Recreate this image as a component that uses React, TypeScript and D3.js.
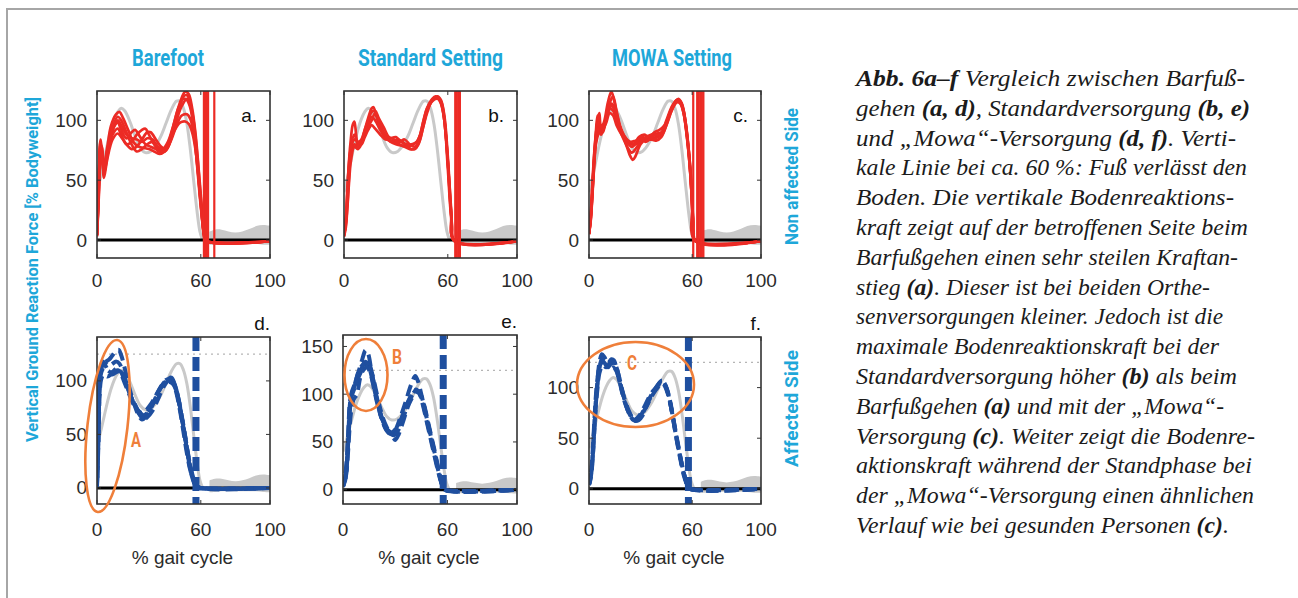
import React from 'react';
import * as d3 from 'd3';

type Pt = [number, number];

// ---------- data ----------
const X_TICKS = [0, 60, 100];
const Y_TICKS_STD = [0, 50, 100];
const Y_TICKS_E = [0, 50, 100, 150];
const REF_LEVEL = 125;

const COLUMN_TITLES = ['Barefoot', 'Standard Setting', 'MOWA Setting'];
const ROW_LABELS = ['Non affected Side', 'Affected Side'];
const Y_LABEL = 'Vertical  Ground Reaction Force [% Bodyweight]';
const X_LABEL = '% gait cycle';
const PANEL_LETTERS = ['a.', 'b.', 'c.', 'd.', 'e.', 'f.'];
const MARKS = ['A', 'B', 'C'];

// healthy reference (grey)
const GRAY_MEAN: Pt[] = [[0,40],[2,52],[4,66],[6,80],[8,92],[10,101],[12,107],[14,110],[16,108],[19,99],[22,87],[25,77],[28,73],[31,74],[34,79],[37,87],[40,98],[43,109],[46,116],[48,116],[50,110],[52,97],[54,75],[56,48],[58,22],[59.5,7],[61,0]];
const GRAY_BAND_X = [65,68,72,76,80,84,88,92,96,100];
const GRAY_BAND_UPPER = [7,9,9,7,6,7,9,12,13,12];
const GRAY_BAND_LOWER = [-4,-4,-3,-3,-3,-3,-3,-3,-4,-4];

// non affected side, barefoot (a)
const RED_A: Pt[][] = [
  [[0,4],[1,45],[2,80],[3,72],[4,62],[6,78],[8,95],[11,105],[13,107],[15,102],[18,92],[21,82],[24,78],[27,77],[30,76],[33,74],[36,72],[39,74],[42,84],[45,100],[48,115],[51,124],[53,122],[55,110],[57,88],[59,55],[61,20],[62,3],[63.5,-1],[100,-1]],
  [[0,4],[1,50],[2,84],[3,68],[4,55],[6,70],[8,85],[10,95],[12,98],[14,92],[17,85],[20,90],[22,92],[25,86],[28,80],[31,78],[34,76],[37,73],[40,75],[43,85],[46,100],[49,112],[52,118],[54,112],[56,95],[58,65],[60,30],[62,5],[63.5,-1],[100,-1]],
  [[0,3],[1,35],[2,70],[3,78],[4,60],[6,72],[9,88],[12,93],[14,88],[17,80],[20,82],[23,88],[26,92],[28,93],[30,88],[33,80],[36,75],[39,74],[42,82],[45,92],[48,98],[51,99],[53,97],[55,90],[57,75],[59,48],[61,15],[62,2],[63.5,-1],[100,-1]],
  [[0,5],[1,40],[2,75],[4,58],[6,75],[9,92],[12,100],[14,96],[17,88],[20,85],[23,84],[26,82],[29,85],[32,84],[35,78],[38,74],[41,78],[44,92],[47,108],[50,120],[52,121],[54,114],[56,98],[58,70],[60,35],[62,5],[63.5,-1],[100,-1]],
  [[0,4],[1,42],[2,82],[3,74],[4,52],[6,68],[9,84],[12,89],[14,86],[17,80],[20,76],[23,78],[26,84],[29,90],[31,90],[34,84],[37,78],[40,76],[43,84],[46,96],[49,104],[52,105],[54,101],[56,88],[58,62],[60,30],[62,4],[63.5,-1],[100,-1]],
  [[0,4],[1,38],[2,78],[4,60],[6,76],[9,94],[12,103],[14,100],[17,90],[20,80],[23,74],[26,76],[29,80],[32,82],[35,78],[38,76],[41,82],[44,95],[47,110],[50,118],[52,117],[54,110],[56,92],[58,60],[60,28],[62,4],[63.5,-1],[100,-1]],
];
const RED_VERT_A = [61.8, 62.6, 63.4, 64.2, 67.8];

// non affected side, standard setting (b)
const RED_B: Pt[][] = [
  [[0,3],[1,15],[2,40],[3,68],[4,85],[5,96],[6,99],[7,88],[8,78],[10,82],[12,92],[14,102],[16,110],[17,111],[19,102],[22,90],[25,84],[28,82],[31,84],[34,82],[37,78],[40,80],[42,82],[44,88],[46,100],[48,110],[51,117],[53,119],[55,118],[57,110],[59,85],[61,45],[62.5,12],[64,-1],[100,-1]],
  [[0,4],[1,12],[2,30],[3,55],[4,72],[6,80],[8,78],[10,82],[12,90],[14,98],[16,103],[18,100],[21,92],[24,86],[27,82],[30,80],[33,79],[36,78],[39,76],[42,78],[44,84],[46,96],[49,112],[52,118],[54,119],[56,115],[58,100],[60,65],[62,22],[64,-1],[100,-1]],
  [[0,5],[1,18],[2,45],[3,66],[4,76],[6,84],[8,82],[10,80],[12,86],[14,92],[16,96],[18,93],[21,88],[24,84],[27,85],[30,86],[33,82],[36,80],[39,80],[42,82],[45,92],[48,108],[51,116],[54,118],[56,114],[58,100],[60,60],[62,18],[64,-1],[100,-1]],
  [[0,3],[1,10],[2,28],[3,50],[4,66],[6,78],[8,76],[10,80],[12,88],[14,95],[16,100],[18,106],[20,100],[23,90],[26,84],[29,82],[32,80],[35,78],[38,76],[41,76],[43,80],[45,90],[48,106],[51,117],[54,120],[56,117],[58,104],[60,70],[62,25],[64,-1],[100,-1]],
  [[0,4],[1,14],[2,36],[3,62],[4,78],[6,88],[8,82],[10,84],[12,92],[14,100],[16,107],[18,108],[20,102],[23,94],[26,86],[29,84],[32,82],[35,84],[38,80],[41,78],[43,82],[45,94],[48,110],[51,118],[53,120],[56,116],[58,102],[60,66],[62,20],[64,-1],[100,-1]],
];
const RED_VERT_B = [64.3, 65.2, 66.1, 67.0];

// non affected side, MOWA setting (c)
const RED_C: Pt[][] = [
  [[0,5],[1,20],[2,45],[3,70],[4,90],[5,104],[6,100],[7,92],[9,100],[11,115],[13,124],[15,114],[17,100],[19,90],[21,84],[24,81],[27,80],[30,84],[33,85],[36,84],[39,86],[42,88],[45,98],[48,110],[51,116],[53,115],[55,106],[57,85],[59,55],[60.5,15],[62,-1],[100,-1]],
  [[0,5],[1,18],[2,40],[3,66],[4,84],[5,95],[6,92],[8,90],[10,102],[12,110],[14,108],[16,100],[19,88],[22,78],[24,70],[25.5,67],[27,70],[30,80],[33,84],[36,84],[39,83],[42,86],[45,96],[48,108],[51,117],[53,116],[55,108],[57,88],[59,58],[60.5,18],[62,-1],[100,-1]],
  [[0,6],[1,22],[2,48],[3,72],[4,88],[5,100],[6,106],[7,96],[9,98],[11,108],[13,114],[15,110],[17,98],[20,88],[23,82],[26,80],[29,86],[32,88],[35,86],[38,90],[41,92],[44,96],[47,106],[50,114],[52,116],[54,112],[56,98],[58,72],[59.5,42],[60.8,8],[62,-1],[100,-1]],
  [[0,5],[1,16],[2,38],[3,62],[4,80],[6,90],[8,92],[10,98],[12,106],[14,104],[16,96],[19,88],[22,82],[25,78],[28,82],[31,86],[34,84],[37,84],[40,86],[43,90],[46,102],[49,113],[52,118],[54,114],[56,100],[58,75],[60,32],[62,-1],[100,-1]],
  [[0,5],[1,19],[2,42],[3,68],[4,86],[5,98],[7,94],[9,97],[11,106],[13,112],[15,108],[17,97],[20,86],[23,76],[25,73],[27,76],[30,82],[33,86],[36,88],[39,89],[42,90],[45,100],[48,111],[51,117],[53,116],[55,108],[57,88],[59,58],[60.5,20],[62,-1],[100,-1]],
  [[0,5],[1,17],[2,40],[3,65],[4,82],[5,93],[7,88],[9,96],[11,110],[13,118],[14,120],[16,108],[18,96],[21,86],[24,82],[27,83],[30,85],[33,82],[36,85],[39,88],[42,87],[45,96],[48,108],[51,115],[53,114],[55,106],[57,86],[59,54],[60.5,16],[62,-1],[100,-1]],
];
const RED_VERT_C = [60.6, 62.9, 63.8, 64.7, 65.6, 66.5];

// affected side, barefoot (d)
const BLUE_D: Pt[][] = [
  [[0,2],[0.7,40],[1.4,90],[2,108],[3,116],[5,118],[7,120],[9,124],[11,128],[12.5,129],[14,124],[16,112],[18,98],[20,86],[22,76],[24,68],[26,64],[28,66],[31,74],[34,84],[37,94],[40,100],[42,103],[44,100],[46,90],[48,74],[50,56],[52,36],[54,18],[56,6],[58,1],[60,0],[100,0]],
  [[0,3],[0.8,50],[1.5,95],[2.5,108],[4,112],[6,110],[8,108],[10,109],[12,110],[14,106],[16,98],[18,90],[20,82],[22,75],[24,70],[26,66],[28,68],[31,76],[34,86],[37,95],[40,101],[42,102],[44,98],[46,88],[48,72],[50,52],[52,32],[54,16],[56,6],[58,1],[60,0],[100,0]],
  [[0,2],[0.7,45],[1.5,100],[2.5,114],[3.5,118],[5,114],[7,108],[9,106],[11,108],[13,109],[15,104],[17,96],[19,88],[21,80],[23,74],[25,70],[27,68],[29,70],[32,78],[35,88],[38,97],[41,102],[43,103],[45,96],[47,84],[49,66],[51,48],[53,28],[55,12],[57,3],[59,0],[100,0]],
  [[0,1],[0.8,40],[1.6,88],[2.5,102],[4,106],[6,104],[8,106],[10,110],[12,112],[14,108],[16,100],[18,92],[20,84],[22,78],[24,72],[26,70],[28,72],[31,78],[34,86],[37,94],[40,98],[42,99],[44,97],[46,90],[48,76],[50,58],[52,38],[54,20],[56,8],[58,2],[60,0],[100,0]],
  [[0,2],[0.7,48],[1.4,96],[2.2,110],[3.5,115],[5,116],[7,114],[9,116],[11,118],[13,116],[15,108],[17,98],[19,88],[21,80],[23,74],[25,68],[27,64],[29,66],[32,72],[35,82],[38,93],[41,100],[43,101],[45,96],[47,84],[49,66],[51,46],[53,26],[55,10],[57,2],[59,0],[100,0]],
];
const BLUE_VERT_D = 57.2;

// affected side, standard setting (e)
const BLUE_E: Pt[][] = [
  [[0,4],[1,10],[2,24],[3,55],[4,90],[5,102],[7,112],[9,124],[11,136],[13,146],[14.5,142],[16,128],[18,108],[20,90],[22,76],[24,66],[26,60],[28,58],[30,62],[33,76],[36,92],[38,104],[40,114],[41.5,119],[43,114],[45,100],[47,84],[49,68],[51,52],[53,36],[55,18],[57,5],[58,0],[100,0]],
  [[0,4],[1,8],[2,20],[3,50],[4,84],[5,98],[7,108],[9,118],[11,126],[13,132],[15,130],[17,118],[19,100],[21,84],[23,72],[25,64],[27,60],[29,60],[31,64],[34,76],[37,90],[40,100],[42,104],[44,100],[46,88],[48,72],[50,56],[52,40],[54,24],[56,10],[57.5,2],[58,0],[100,0]],
  [[0,5],[1,12],[2,28],[3,60],[4,92],[5,100],[7,112],[9,124],[11,130],[13,134],[15,128],[17,114],[19,98],[21,82],[23,70],[25,62],[27,58],[29,54],[30,52],[32,58],[35,74],[38,90],[41,100],[43,103],[45,98],[47,86],[49,70],[51,54],[53,38],[55,20],[57,6],[58,0],[100,0]],
  [[0,3],[1,8],[2,18],[3,42],[4,70],[5,86],[6,94],[8,100],[10,118],[12,126],[14,128],[16,120],[18,104],[20,88],[22,76],[24,68],[26,62],[28,60],[30,63],[33,72],[36,86],[39,98],[42,104],[44,102],[46,92],[48,76],[50,60],[52,44],[54,28],[56,12],[57.5,3],[58,0],[100,0]],
  [[0,4],[1,9],[2,22],[3,52],[4,86],[5,100],[7,110],[9,120],[11,128],[13,133],[15,131],[17,120],[19,104],[21,88],[23,75],[25,66],[27,60],[29,57],[31,60],[34,72],[37,88],[40,100],[42,105],[44,101],[46,90],[48,74],[50,58],[52,42],[54,26],[56,11],[57.5,2],[58,0],[100,0]],
];
const BLUE_VERT_E = 57.6;

// affected side, MOWA setting (f)
const BLUE_F: Pt[][] = [
  [[0,4],[1,12],[2,30],[3,60],[4,88],[5,108],[6,124],[7.5,133],[9,130],[11,124],[13,128],[14.5,127],[16,118],[18,104],[20,92],[22,82],[24,74],[26,69],[28,68],[30,72],[33,82],[36,92],[39,100],[41,105],[42.5,107],[44,104],[46,94],[48,78],[50,58],[52,40],[54,24],[56,10],[57.5,3],[59,0],[100,0]],
  [[0,4],[1,10],[2,26],[3,54],[4,82],[5,100],[6,114],[8,122],[10,120],[12,124],[14,126],[16,120],[18,106],[20,92],[22,80],[24,72],[26,68],[28,70],[30,74],[33,84],[36,94],[39,100],[41,104],[43,106],[45,100],[47,88],[49,70],[51,50],[53,32],[55,16],[57,5],[58.5,0],[100,0]],
  [[0,5],[1,14],[2,34],[3,64],[4,92],[5,110],[6,120],[8,126],[10,122],[12,118],[14,120],[16,116],[18,104],[20,90],[22,80],[24,72],[26,68],[28,68],[30,72],[33,80],[36,90],[39,98],[41,102],[43,104],[45,98],[47,86],[49,68],[51,48],[53,30],[55,14],[57,4],[58.5,0],[100,0]],
  [[0,4],[1,11],[2,28],[3,56],[4,84],[5,104],[6,118],[7.5,128],[9,126],[11,120],[13,124],[15,124],[17,114],[19,100],[21,86],[23,76],[25,70],[27,67],[29,68],[31,72],[34,84],[37,94],[40,102],[42,106],[44,103],[46,94],[48,78],[50,60],[52,42],[54,24],[56,10],[57.5,2],[59,0],[100,0]],
];
const BLUE_VERT_F = 57.8;

// caption
type Seg = [string, boolean?];
const CAPTION: Seg[][] = [
  [['Abb. 6a–f', true], [' Vergleich zwischen Barfuß-']],
  [['gehen '], ['(a, d)', true], [', Standardversorgung '], ['(b, e)', true]],
  [['und „Mowa“-Versorgung '], ['(d, f)', true], ['. Verti-']],
  [['kale Linie bei ca. 60 %: Fuß verlässt den']],
  [['Boden. Die vertikale Bodenreaktions-']],
  [['kraft zeigt auf der betroffenen Seite beim']],
  [['Barfußgehen einen sehr steilen Kraftan-']],
  [['stieg '], ['(a)', true], ['. Dieser ist bei beiden Orthe-']],
  [['senversorgungen kleiner. Jedoch ist die']],
  [['maximale Bodenreaktionskraft bei der']],
  [['Standardversorgung höher '], ['(b)', true], [' als beim']],
  [['Barfußgehen '], ['(a)', true], [' und mit der „Mowa“-']],
  [['Versorgung '], ['(c)', true], ['. Weiter zeigt die Bodenre-']],
  [['aktionskraft während der Standphase bei']],
  [['der „Mowa“-Versorgung einen ähnlichen']],
  [['Verlauf wie bei gesunden Personen '], ['(c)', true], ['.']],
];
const CAPTION_RIGHT = [1245, 1250, 1236, 1247, 1234, 1248, 1238, 1210, 1223, 1219, 1237, 1224, 1255, 1252, 1254, 1229];

// ---------- styles / layout ----------
const CYAN = '#1ea7d9';
const ORANGE = '#ef7f3a';
const RED = '#ec2b25';
const BLUE = '#1f4f9f';
const GRAY = '#c9c9c9';
const TICK_FONT = "'Liberation Sans', Arial, Helvetica, sans-serif";
const COND_FONT = "Roboto, 'Open Sans', sans-serif";
const SERIF = "'Liberation Serif', 'Times New Roman', serif";

interface PanelCfg {
  id: string; x0: number; x1: number; y0: number; y1: number;
  yDomain: [number, number]; yTicks: number[];
  red?: Pt[][]; redVert?: number[];
  blue?: Pt[][]; blueVert?: number;
  letter: string; top: boolean;
}

const PANELS: PanelCfg[] = [
  { id: 'a', x0: 97, x1: 270, y0: 91, y1: 258, yDomain: [-15, 124.5], yTicks: Y_TICKS_STD, red: RED_A, redVert: RED_VERT_A, letter: PANEL_LETTERS[0], top: true },
  { id: 'b', x0: 344, x1: 517, y0: 91, y1: 258, yDomain: [-15, 124.5], yTicks: Y_TICKS_STD, red: RED_B, redVert: RED_VERT_B, letter: PANEL_LETTERS[1], top: true },
  { id: 'c', x0: 589, x1: 761, y0: 91, y1: 258, yDomain: [-15, 124.5], yTicks: Y_TICKS_STD, red: RED_C, redVert: RED_VERT_C, letter: PANEL_LETTERS[2], top: true },
  { id: 'd', x0: 97, x1: 270, y0: 337, y1: 504, yDomain: [-15, 141], yTicks: Y_TICKS_STD, blue: BLUE_D, blueVert: BLUE_VERT_D, letter: PANEL_LETTERS[3], top: false },
  { id: 'e', x0: 343, x1: 517, y0: 335, y1: 504, yDomain: [-15, 162], yTicks: Y_TICKS_E, blue: BLUE_E, blueVert: BLUE_VERT_E, letter: PANEL_LETTERS[4], top: false },
  { id: 'f', x0: 589, x1: 761, y0: 337, y1: 504, yDomain: [-15, 150], yTicks: Y_TICKS_STD, blue: BLUE_F, blueVert: BLUE_VERT_F, letter: PANEL_LETTERS[5], top: false },
];

function Panel({ p }: { p: PanelCfg }) {
  const x = d3.scaleLinear().domain([0, 100]).range([p.x0, p.x1]);
  const y = d3.scaleLinear().domain(p.yDomain).range([p.y1, p.y0]);
  const line = d3.line<Pt>().x(d => x(d[0])).y(d => y(d[1])).curve(d3.curveCatmullRom.alpha(0.5));
  const bandData = GRAY_BAND_X.map((v, i) => ({ x: v, lo: GRAY_BAND_LOWER[i], hi: GRAY_BAND_UPPER[i] }));
  const area = d3.area<{ x: number; lo: number; hi: number }>()
    .x(d => x(d.x)).y0(d => y(d.lo)).y1(d => y(d.hi)).curve(d3.curveBasis);
  const clip = `clip-${p.id}`;
  const xLabelY = p.top ? 280 : 529;
  return (
    <g>
      <defs>
        <clipPath id={clip}>
          <rect x={p.x0} y={p.y0} width={p.x1 - p.x0} height={p.y1 - p.y0} />
        </clipPath>
      </defs>
      <g clipPath={`url(#${clip})`}>
        <path d={area(bandData) || ''} fill={GRAY} stroke="none" />
        <path d={line(GRAY_MEAN) || ''} fill="none" stroke={GRAY} strokeWidth={3} />
        {!p.top && (
          <line x1={p.x0} x2={p.x1} y1={y(REF_LEVEL)} y2={y(REF_LEVEL)} stroke="#b5b5b5" strokeWidth={1.2} strokeDasharray="2,4" />
        )}
        <line x1={p.x0} x2={p.x1} y1={y(0)} y2={y(0)} stroke="#000" strokeWidth={3} />
        {p.red && p.red.map((t, i) => (
          <path key={i} d={line(t) || ''} fill="none" stroke={RED} strokeWidth={2.7} strokeLinejoin="round" />
        ))}
        {p.redVert && p.redVert.map((v, i) => (
          <line key={i} x1={x(v)} x2={x(v)} y1={p.y0} y2={p.y1} stroke={RED} strokeWidth={2.2} />
        ))}
        {p.blue && p.blue.map((t, i) => (
          <path key={i} d={line(t) || ''} fill="none" stroke={BLUE} strokeWidth={4} strokeDasharray="12,6" strokeDashoffset={i * 3} />
        ))}
        {p.blueVert !== undefined && (
          <line x1={x(p.blueVert)} x2={x(p.blueVert)} y1={p.y0} y2={p.y1} stroke={BLUE} strokeWidth={7} strokeDasharray="14,6" />
        )}
      </g>
      <rect x={p.x0} y={p.y0} width={p.x1 - p.x0} height={p.y1 - p.y0} fill="none" stroke="#333" strokeWidth={1.6} />
      {X_TICKS.map(t => (
        <g key={'xt' + t}>
          <line x1={x(t)} x2={x(t)} y1={p.y1} y2={p.y1 - 4} stroke="#333" strokeWidth={1} />
          <line x1={x(t)} x2={x(t)} y1={p.y0} y2={p.y0 + 4} stroke="#333" strokeWidth={1} />
          <text x={x(t)} y={xLabelY} textAnchor="middle" dominantBaseline="central" fontFamily={TICK_FONT} fontSize={19} fill="#2b2b2b">{t}</text>
        </g>
      ))}
      {p.yTicks.map(t => (
        <g key={'yt' + t}>
          <line x1={p.x0} x2={p.x0 + 4} y1={y(t)} y2={y(t)} stroke="#333" strokeWidth={1} />
          <line x1={p.x1} x2={p.x1 - 4} y1={y(t)} y2={y(t)} stroke="#333" strokeWidth={1} />
          <text x={p.x0 - 10} y={y(t)} textAnchor="end" dominantBaseline="central" fontFamily={TICK_FONT} fontSize={19} fill="#2b2b2b">{t}</text>
        </g>
      ))}
      {p.top ? (
        <text x={p.x1 - 13} y={115} textAnchor="end" dominantBaseline="central" fontFamily={TICK_FONT} fontSize={19} fill="#111">{p.letter}</text>
      ) : (
        <text x={p.x1} y={p.y0 - 14} textAnchor="end" dominantBaseline="central" fontFamily={TICK_FONT} fontSize={19} fill="#111">{p.letter}</text>
      )}
      {!p.top && (
        <text x={(p.x0 + p.x1) / 2 - 1} y={557} textAnchor="middle" dominantBaseline="central" fontFamily={TICK_FONT} fontSize={19} fill="#2b2b2b">{X_LABEL}</text>
      )}
    </g>
  );
}

export default function App() {
  const titleCenters = [168, 430.5, 672];
  const titleWidths = [72, 145, 120];
  return (
    <svg width={1298} height={598} style={{ position: 'absolute', left: 0, top: 0, background: '#fff' }}>
      <rect x={0} y={0} width={1298} height={598} fill="#fff" />
      {/* outer frame */}
      <line x1={7} x2={1298} y1={9} y2={9} stroke="#a6a6a6" strokeWidth={2} />
      <line x1={7} x2={7} y1={8} y2={598} stroke="#a6a6a6" strokeWidth={2} />

      {COLUMN_TITLES.map((t, i) => (
        <text key={t} x={titleCenters[i]} y={66} textAnchor="middle" fontFamily={COND_FONT} fontWeight={700} fontSize={24}
          fill={CYAN} textLength={titleWidths[i]} lengthAdjust="spacingAndGlyphs">{t}</text>
      ))}

      <text transform="translate(38,269.5) rotate(-90)" textAnchor="middle" fontFamily={COND_FONT} fontWeight={700} fontSize={17}
        fill={CYAN} textLength={345} lengthAdjust="spacingAndGlyphs">{Y_LABEL}</text>
      <text transform="translate(798,176.5) rotate(-90)" textAnchor="middle" fontFamily={COND_FONT} fontWeight={700} fontSize={18}
        fill={CYAN} textLength={137} lengthAdjust="spacingAndGlyphs">{ROW_LABELS[0]}</text>
      <text transform="translate(798,408.5) rotate(-90)" textAnchor="middle" fontFamily={COND_FONT} fontWeight={700} fontSize={18}
        fill={CYAN} textLength={117} lengthAdjust="spacingAndGlyphs">{ROW_LABELS[1]}</text>

      {PANELS.map(p => <Panel key={p.id} p={p} />)}

      {/* orange annotations */}
      <ellipse cx={107.5} cy={426} rx={20} ry={86.5} transform="rotate(6.5,107.5,426)" fill="none" stroke={ORANGE} strokeWidth={2.6} />
      <ellipse cx={366} cy={375} rx={21.5} ry={36} fill="none" stroke={ORANGE} strokeWidth={2.6} />
      <ellipse cx={635.5} cy={384.5} rx={58.5} ry={42.5} fill="none" stroke={ORANGE} strokeWidth={2.6} />
      {[[136, 447], [397, 364], [632, 370]].map((pos, i) => (
        <text key={MARKS[i]} x={pos[0]} y={pos[1]} textAnchor="middle" fontFamily={COND_FONT} fontWeight={700} fontSize={20}
          fill={ORANGE} textLength={10} lengthAdjust="spacingAndGlyphs">{MARKS[i]}</text>
      ))}

      {/* caption */}
      {CAPTION.map((segs, i) => (
        <text key={i} x={856} y={86 + i * 29.8} fontFamily={SERIF} fontStyle="italic" fontSize={23} fill="#1b1b1b"
          textLength={CAPTION_RIGHT[i] - 856} lengthAdjust="spacingAndGlyphs">
          {segs.map((s, j) => (
            <tspan key={j} fontWeight={s[1] ? 700 : 400}>{s[0]}</tspan>
          ))}
        </text>
      ))}
    </svg>
  );
}
